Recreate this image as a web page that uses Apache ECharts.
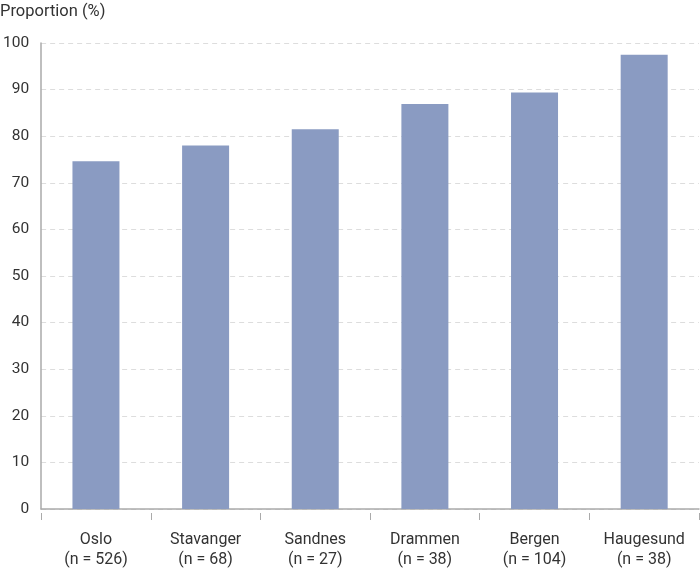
<!DOCTYPE html>
<html>
<head>
<meta charset="utf-8">
<script src="https://cdn.jsdelivr.net/npm/echarts@6/dist/echarts.min.js"></script>
<style>
  html, body { margin: 0; padding: 0; background: #fff; }
  #chart { width: 700px; height: 570px; }
</style>
</head>
<body>
<div id="chart"></div>
<script>
const cities = ['Oslo', 'Stavanger', 'Sandnes', 'Drammen', 'Bergen', 'Haugesund'];
const sampleSizes = [526, 68, 27, 38, 104, 38];
const proportions = [74.6, 78.0, 81.5, 86.9, 89.4, 97.5];

const font = 'Roboto, "DejaVu Sans", sans-serif';
const chart = echarts.init(document.getElementById('chart'));

chart.setOption({
  animation: false,
  textStyle: { fontFamily: font },
  grid: { left: 40, right: 1, top: 43, bottom: 60 },
  title: {
    text: 'Proportion (%)',
    left: 0, top: 3, padding: 0,
    textStyle: { fontSize: 16.5, fontWeight: 'normal', color: '#333', fontFamily: font }
  },
  xAxis: [{
    type: 'category',
    data: cities.map((c, i) => c + '\n(n = ' + sampleSizes[i] + ')'),
    axisLine: { lineStyle: { color: '#aaa', width: 1.5 } },
    axisTick: { show: false },
    axisLabel: { color: '#333', fontSize: 16, lineHeight: 20, margin: 21, interval: 0 }
  }, {
    type: 'category',
    data: cities,
    position: 'bottom',
    offset: 4,
    axisLine: { show: false },
    axisTick: { show: true, length: 7, lineStyle: { color: '#aaa' } },
    axisLabel: { show: false }
  }],
  yAxis: {
    type: 'value',
    min: 0, max: 100, interval: 10,
    axisLine: { show: true, lineStyle: { color: '#aaa', width: 1.5 } },
    axisTick: { show: false },
    axisLabel: { color: '#333', fontSize: 15.5, margin: 12 },
    splitLine: { lineStyle: { color: '#ddd', type: [5, 4] } }
  },
  series: [{
    type: 'bar',
    data: proportions,
    barWidth: 47,
    itemStyle: { color: '#8a9bc2' }
  }]
});
</script>
</body>
</html>
